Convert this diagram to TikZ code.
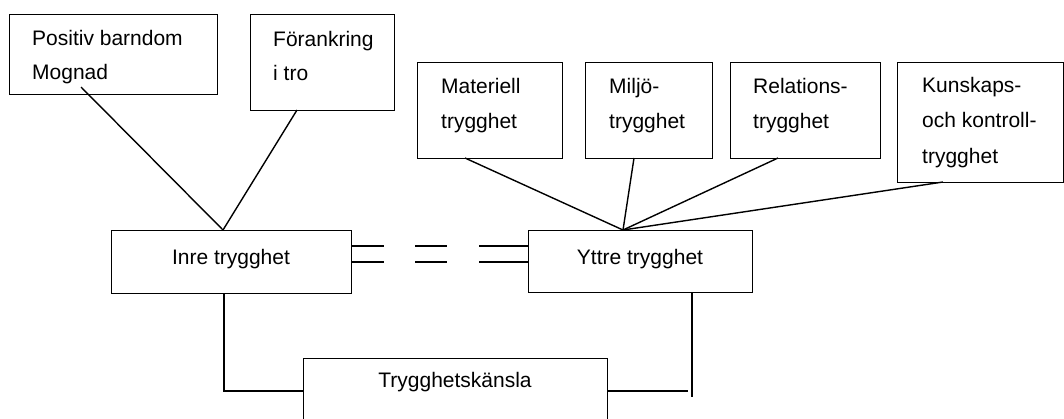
\documentclass[tikz,border=0pt]{standalone}
\usepackage{fontspec}
\setmainfont{Liberation Sans}
\begin{document}
\begin{tikzpicture}[x=1pt,y=-1pt,
  box/.style={draw, line width=1.4pt, inner sep=0pt, anchor=north west},
  lbl/.style={anchor=base west, inner sep=0pt, font=\fontsize{21}{25}\selectfont},
  ctr/.style={anchor=base, inner sep=0pt, font=\fontsize{21}{25}\selectfont},
  link/.style={line width=1.4pt}]
% page frame
\clip (0,0) rectangle (1064,418);
\fill[white] (0,0) rectangle (1064,418);

% upper boxes, inner factors
\node[box, minimum width=208pt, minimum height=80pt] (pos) at (9,14) {};
\node[box, minimum width=144pt, minimum height=96pt] (foer) at (250,14) {};
% upper boxes, outer factors
\node[box, minimum width=145pt, minimum height=96pt] (mat) at (417,62) {};
\node[box, minimum width=127pt, minimum height=96pt] (milj) at (585,62) {};
\node[box, minimum width=150pt, minimum height=96pt] (rel) at (730,62) {};
\node[box, minimum width=166pt, minimum height=120pt] (kun) at (897,62) {};
% middle and bottom boxes
\node[box, minimum width=240pt, minimum height=63pt] (inre) at (111,230) {};
\node[box, minimum width=224pt, minimum height=62pt] (yttre) at (528,230) {};
\node[box, minimum width=304pt, minimum height=100pt] (tk) at (303,358) {};

% box texts
\node[lbl] (pos1) at (32,45) {Positiv barndom};
\node[lbl] (pos2) at (32,79) {Mognad};
\node[lbl] (foer1) at (273,46) {Förankring};
\node[lbl] (foer2) at (273,80) {i tro};
\node[lbl] (mat1) at (441,93) {Materiell};
\node[lbl] (mat2) at (441,128) {trygghet};
\node[lbl] (milj1) at (609,93) {Miljö-};
\node[lbl] (milj2) at (609,128) {trygghet};
\node[lbl] (rel1) at (753,93) {Relations-};
\node[lbl] (rel2) at (753,128) {trygghet};
\node[lbl] (kun1) at (922,92) {Kunskaps-};
\node[lbl] (kun2) at (922,127) {och kontroll-};
\node[lbl] (kun3) at (922,163) {trygghet};
\node[ctr] (inretxt) at (231,264) {Inre trygghet};
\node[ctr] (yttretxt) at (640,264) {Yttre trygghet};
\node[ctr] (tktxt) at (455,387) {Trygghetskänsla};

% connection points
\coordinate (posfoot) at (81,87);
\coordinate (foerfoot) at (297,110);
\coordinate (inretop) at (223,230);
\coordinate (matfoot) at (465,158);
\coordinate (miljfoot) at (634,158);
\coordinate (relfoot) at (778,158);
\coordinate (kunfoot) at (943,182);
\coordinate (yttretop) at (623,230);
\coordinate (inrefoot) at (224,293);
\coordinate (tkleft) at (303,391);
\coordinate (tkright) at (607,391);
\coordinate (rightend) at (688,391);
\coordinate (yttrefoot) at (692,292);
\coordinate (yttrestub) at (692,397);

% factor lines
\draw[link] (posfoot) -- (inretop);
\draw[link] (foerfoot) -- (inretop);
\draw[link] (matfoot) -- (yttretop);
\draw[link] (miljfoot) -- (yttretop);
\draw[link] (relfoot) -- (yttretop);
\draw[link] (kunfoot) -- (yttretop);

% broken double line between inner and outer
\foreach \yy in {246,262} {
  \draw[link] (inre.east |- 0,\yy) -- (384,\yy);
  \draw[link] (415,\yy) -- (447,\yy);
  \draw[link] (479,\yy) -- (yttre.west |- 0,\yy);
}

% links to the feeling of safety
\draw[link] (inrefoot) |- (tkleft);
\draw[link] (tkright) -- (rightend);
\draw[link] (yttrefoot) -- (yttrestub);
\end{tikzpicture}
\end{document}
